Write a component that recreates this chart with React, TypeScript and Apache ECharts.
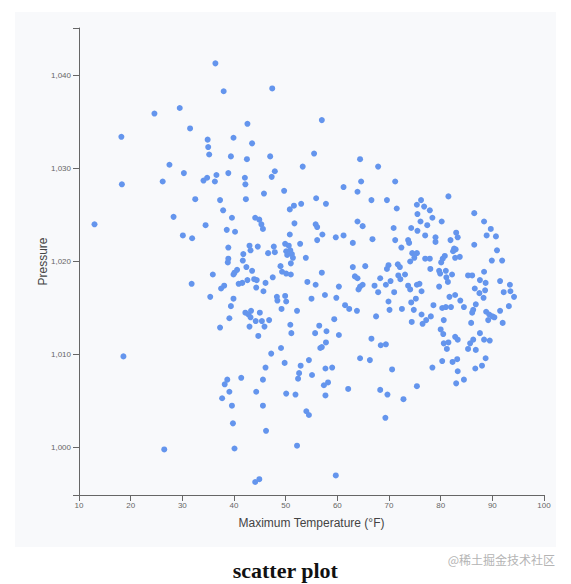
import React, { useEffect, useRef } from "react";
import * as echarts from "echarts";

const xTicks = [10, 20, 30, 40, 50, 60, 70, 80, 90, 100];
const yTicks = [1000, 1010, 1020, 1030, 1040];
const yDomain = [994.9, 1045.1];

const maxTemperature = [
  36.4, 38.0, 24.6, 29.5, 31.5, 18.2, 34.9, 39.9, 35.0, 35.2, 39.4, 27.5, 30.3, 26.2, 18.3, 34.1, 34.8, 36.6, 36.3, 38.9, 32.5, 37.3,
  47.4, 57.0, 42.6, 43.5, 42.5, 47.0, 55.5, 64.4, 67.9, 53.3, 47.9, 47.3, 42.1, 42.2, 61.2, 64.6, 63.9, 49.7, 45.8, 42.3, 55.9, 66.6, 69.6,
  71.2, 81.5, 76.2,
  13.0, 37.9, 39.6, 28.3, 34.5, 38.6, 40.2, 30.1, 31.9, 38.9, 38.9, 38.8, 35.9, 39.9, 31.8, 38.1, 37.5, 35.4, 39.9, 39.4, 39.1, 37.3, 18.6,
  38.7, 38.2, 39.1, 37.7, 39.6, 39.8, 26.5, 40.1,
  47.2, 49.8, 54.5, 52.9, 46.1, 41.4, 45.6, 52.6, 52.4, 55.1, 57.7, 59.0, 64.4, 66.3, 57.4, 58.2, 57.7, 62.1, 68.3, 69.7, 44.3, 50.1, 51.9, 45.6, 54.0, 54.5, 46.2, 52.2, 69.3, 59.7, 44.1, 44.9,
  70.6, 78.4, 80.3, 82.3, 83.2, 88.7, 88.0, 86.7, 83.3, 83.0, 84.5, 75.4, 72.8,
  50.8, 51.6, 53.0, 57.8, 44.1, 44.9, 45.3, 45.6, 51.7, 55.8, 56.1, 63.9, 64.9, 50.8, 57.1, 56.1, 59.7, 61.2, 66.8, 63.0,
  43.0, 43.2, 44.6, 47.7, 47.9, 46.6, 49.9, 50.6, 50.1, 50.9, 50.3, 51.2, 51.4, 52.8, 41.8, 41.7, 53.9, 51.0, 42.4, 40.6,
  40.1, 43.5, 49.0, 49.3, 50.1, 51.0, 47.5, 42.6, 43.9, 44.4, 40.9, 41.6, 46.1, 44.3, 45.7, 54.2, 55.8, 57.0, 60.3, 63.0,
  65.4, 63.4, 63.9, 64.9, 64.4, 64.1, 67.2, 68.3, 69.9, 69.6, 69.4, 67.9, 57.6, 59.8, 55.0, 48.3, 48.4, 49.9, 50.1, 49.2,
  52.2, 61.5, 62.3, 63.8, 69.9, 70.1, 67.5, 42.2, 42.8, 43.3, 45.0, 43.2, 44.2, 45.4, 46.8, 45.9, 44.7, 43.0, 50.9, 51.1,
  56.5, 57.9, 59.4, 60.3, 55.7, 57.8, 57.0, 56.7, 66.6, 68.4, 69.4, 49.1,
  75.4, 76.8, 77.9, 71.5, 75.5, 78.4, 76.1, 77.4, 80.2, 86.5, 88.4, 89.7, 88.9, 90.7, 70.9, 74.3, 75.5, 77.0, 79.0, 79.0,
  81.9, 83.0, 83.3, 86.5, 71.2, 73.7, 73.9, 72.4, 82.6, 82.9, 82.4, 90.9, 74.5, 75.4, 74.9, 74.1, 77.0, 77.9, 80.8, 80.4,
  80.1, 82.8, 83.7, 89.9, 91.9, 71.7, 72.1, 78.0, 79.7, 79.9, 81.0, 81.1, 81.4, 82.2, 88.4, 85.3, 86.1, 71.8, 72.2, 73.1,
  70.3, 73.7, 74.1, 75.4, 75.9, 76.3, 79.7, 87.6, 88.7, 86.6, 87.5, 88.6, 88.3, 91.5, 93.4, 92.2, 93.5, 94.2, 71.0, 74.3,
  75.2, 72.5, 74.8, 78.6, 81.7, 82.8, 83.8, 80.3, 81.0, 82.0, 84.5, 86.8, 86.3, 86.1, 88.8, 89.4, 90.0, 89.2, 91.5, 93.2,
  92.0, 90.4, 76.3, 77.2, 76.5, 78.1, 74.4, 80.6, 85.9, 80.0, 80.5, 82.8, 83.3, 87.6, 88.4, 89.5, 86.3, 85.7, 80.6, 81.5,
  81.2, 85.3, 86.8,
];

const pressure = [
  1041.3, 1038.3, 1035.9, 1036.5, 1034.3, 1033.4, 1033.1, 1033.3, 1032.3, 1031.5, 1031.3, 1030.4, 1029.5, 1028.6, 1028.3, 1028.7, 1029.0, 1029.3, 1028.6, 1029.5, 1026.7, 1026.6,
  1038.6, 1035.2, 1034.8, 1032.7, 1031.0, 1031.3, 1031.6, 1031.0, 1030.2, 1030.2, 1029.7, 1029.1, 1029.0, 1028.3, 1028.0, 1028.6, 1027.5, 1027.6, 1027.3, 1026.7, 1026.8, 1026.6, 1026.6,
  1028.6, 1027.0, 1026.6,
  1024.0, 1025.5, 1024.7, 1024.8, 1023.9, 1023.4, 1023.2, 1022.8, 1022.5, 1021.5, 1020.3, 1019.9, 1018.6, 1018.6, 1017.6, 1017.4, 1017.1, 1016.2, 1016.0, 1015.2, 1013.9, 1012.9, 1009.8,
  1007.3, 1006.8, 1006.0, 1005.3, 1004.5, 1002.6, 999.8, 999.9,
  1010.1, 1009.1, 1009.4, 1008.8, 1008.6, 1007.5, 1007.3, 1008.0, 1007.4, 1007.8, 1008.5, 1008.6, 1009.6, 1009.4, 1006.7, 1007.0, 1005.6, 1006.3, 1006.2, 1005.7, 1006.0, 1005.8, 1005.7, 1004.5, 1003.9, 1003.5, 1001.8, 1000.2, 1003.2, 997.0, 996.3, 996.6,
  1008.4, 1008.6, 1009.3, 1009.2, 1009.5, 1009.6, 1008.8, 1008.5, 1008.2, 1006.9, 1007.3, 1006.6, 1005.2,
  1025.6, 1026.0, 1026.2, 1026.2, 1024.7, 1024.5, 1024.0, 1023.5, 1024.1, 1024.0, 1023.7, 1024.3, 1023.8, 1022.9, 1022.9, 1022.3, 1022.6, 1022.8, 1022.4, 1022.0,
  1021.7, 1021.2, 1021.6, 1021.6, 1021.0, 1020.9, 1021.9, 1021.7, 1021.1, 1021.2, 1020.7, 1020.8, 1020.4, 1021.9, 1020.8, 1020.1, 1020.4, 1019.8, 1019.4, 1019.1,
  1018.8, 1019.0, 1019.5, 1018.9, 1018.7, 1018.6, 1018.3, 1018.0, 1018.1, 1018.0, 1017.6, 1017.7, 1017.7, 1017.2, 1016.8, 1017.8, 1017.5, 1018.8, 1017.3, 1019.4,
  1019.5, 1018.4, 1018.2, 1017.5, 1017.3, 1017.0, 1017.4, 1018.2, 1019.6, 1019.2, 1017.5, 1016.7, 1016.4, 1016.1, 1016.0, 1016.2, 1015.8, 1016.3, 1015.7, 1014.9,
  1014.7, 1015.3, 1014.9, 1014.7, 1015.7, 1014.8, 1014.1, 1014.5, 1014.3, 1014.7, 1014.5, 1014.0, 1013.6, 1013.6, 1013.7, 1013.0, 1012.0, 1013.0, 1013.2, 1012.3,
  1013.1, 1012.5, 1013.8, 1012.1, 1012.3, 1011.3, 1010.8, 1010.7, 1011.7, 1011.0, 1011.1, 1010.7,
  1026.1, 1025.9, 1025.5, 1025.7, 1025.1, 1024.7, 1024.3, 1023.9, 1024.3, 1025.2, 1024.3, 1023.5, 1022.8, 1022.7, 1023.6, 1023.6, 1023.3, 1022.8, 1022.6, 1022.1,
  1022.3, 1023.1, 1022.6, 1021.8, 1022.3, 1022.3, 1022.0, 1021.5, 1021.4, 1021.3, 1021.1, 1021.2, 1020.9, 1020.9, 1020.4, 1020.0, 1020.3, 1020.3, 1020.6, 1020.3,
  1019.9, 1020.4, 1020.5, 1020.1, 1020.1, 1019.7, 1019.4, 1019.2, 1019.0, 1018.7, 1019.0, 1018.3, 1017.8, 1018.6, 1018.9, 1018.5, 1018.5, 1018.5, 1018.1, 1018.6,
  1017.9, 1017.4, 1017.0, 1017.5, 1017.6, 1016.8, 1017.3, 1018.0, 1017.7, 1017.1, 1016.6, 1016.9, 1016.1, 1017.9, 1017.5, 1016.7, 1016.8, 1016.2, 1016.7, 1015.6,
  1016.0, 1014.9, 1014.8, 1015.3, 1016.2, 1016.4, 1015.8, 1015.0, 1015.1, 1015.1, 1015.1, 1015.4, 1014.8, 1014.5, 1014.6, 1014.3, 1014.1, 1013.7, 1014.7, 1015.2,
  1013.4, 1014.0, 1014.3, 1013.7, 1013.3, 1014.1, 1013.5, 1013.7, 1013.4, 1012.7, 1012.2, 1011.9, 1011.6, 1012.3, 1011.6, 1011.5, 1011.6, 1011.2, 1011.2, 1011.3,
  1010.6, 1010.6, 1010.5,
];

const titleText = "scatter plot";
const watermarkText = "@稀土掘金技术社区";
const xName = "Maximum Temperature (°F)";
const yName = "Pressure";

export default function App() {
  const ref = useRef<HTMLDivElement>(null);
  useEffect(() => {
    if (!ref.current) return;
    const chart = echarts.init(ref.current, null, { renderer: "svg" });
    const n = Math.min(maxTemperature.length, pressure.length);
    const data: number[][] = [];
    for (let i = 0; i < n; i++) data.push([maxTemperature[i], pressure[i]]);
    const axisColor = "#666";
    const sans = "'Liberation Sans', Arial, sans-serif";
    chart.setOption({
      animation: false,
      grid: { left: 79, right: 27, top: 28, bottom: 89, containLabel: false },
      xAxis: {
        type: "value",
        min: xTicks[0],
        max: xTicks[xTicks.length - 1],
        interval: 10,
        name: xName,
        nameLocation: "middle",
        nameGap: 22,
        nameMoveOverlap: false,
        nameTextStyle: { color: "#444", fontSize: 12, fontFamily: sans },
        axisLine: { show: true, onZero: false, lineStyle: { color: axisColor, width: 1 } },
        axisTick: { show: true, length: 6, inside: false, lineStyle: { color: axisColor } },
        axisLabel: { color: "#666", fontSize: 8, margin: 6, fontFamily: sans, formatter: (v: number) => String(v) },
        splitLine: { show: false },
      },
      yAxis: {
        type: "value",
        min: yDomain[0],
        max: yDomain[1],
        name: yName,
        nameLocation: "middle",
        nameRotate: 90,
        nameGap: 30,
        nameMoveOverlap: false,
        nameTextStyle: { color: "#444", fontSize: 12, fontFamily: sans },
        axisLine: { show: true, onZero: false, lineStyle: { color: axisColor, width: 1 } },
        axisTick: { show: true, length: 6, lineStyle: { color: axisColor }, customValues: [yDomain[0], ...yTicks, yDomain[1]] },
        axisLabel: {
          color: "#666",
          fontSize: 8,
          margin: 8,
          fontFamily: sans,
          customValues: yTicks,
          formatter: (v: number) => Math.round(v).toLocaleString("en-US"),
        },
        splitLine: { show: false },
      },
      series: [
        {
          type: "scatter",
          data,
          symbol: "circle",
          symbolSize: 6,
          itemStyle: { color: "#6495ED", opacity: 1 },
        },
      ],
      graphic: [
        {
          type: "text",
          left: "center",
          top: 559,
          style: {
            text: titleText,
            fontSize: 22,
            fontWeight: "bold",
            fontFamily: "'Liberation Serif', 'Times New Roman', serif",
            fill: "#111",
          },
        },
        {
          type: "text",
          right: 16,
          top: 553,
          style: {
            text: watermarkText,
            fontSize: 12,
            fontFamily: "'Noto Sans CJK SC', sans-serif",
            fill: "#b4b4b4",
          },
        },
      ],
    });
    return () => chart.dispose();
  }, []);
  return (
    <div style={{ position: "fixed", left: 0, top: 0, width: 571, height: 584, background: "#fff" }}>
      <div style={{ position: "absolute", left: 15, top: 12, width: 541, height: 535, background: "#f8f9fb" }} />
      <div ref={ref} style={{ position: "absolute", left: 0, top: 0, width: 571, height: 584 }} />
    </div>
  );
}
